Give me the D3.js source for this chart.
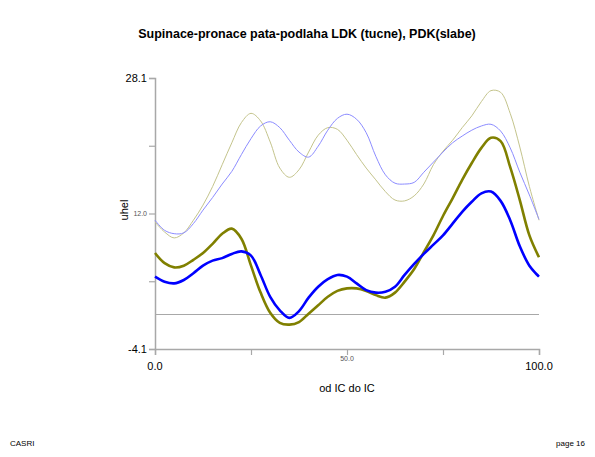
<!DOCTYPE html>
<html>
<head>
<meta charset="utf-8">
<script src="https://cdn.jsdelivr.net/npm/d3@7"></script>
<style>
  body { margin: 0; background: #fff; }
  text { font-family: Arial, "Liberation Sans", sans-serif; }
</style>
</head>
<body>
<svg width="595" height="457"></svg>
<script>
// procenta cyklu (od IC do IC)
const pct = [0, 2.5, 5, 7.5, 10, 12.5, 15, 17.5, 20, 22.5, 25, 27.5, 30, 32.5, 35, 37.5, 40,
  42.5, 45, 47.5, 50, 52.5, 55, 57.5, 60, 62.5, 65, 67.5, 70, 72.5, 75, 77.5, 80, 82.5, 85,
  87.5, 90, 92.5, 95, 97.5, 100];

// LDK - tucne
const ldkOlive = [7.3, 6.1, 5.6, 5.8, 6.5, 7.3, 8.4, 9.6, 10.2, 9.0, 5.8, 2.6, 0.2, -1.0, -1.2, -0.9, 0.1,
  1.1, 2.1, 2.8, 3.1, 3.1, 2.8, 2.3, 2.0, 2.6, 3.9, 5.4, 7.4, 9.4, 11.7, 13.8, 16.0, 18.0, 19.8,
  21.0, 20.6, 17.5, 13.6, 9.4, 6.8];
const ldkBlue = [4.5, 3.9, 3.7, 4.1, 4.9, 5.8, 6.4, 6.7, 7.2, 7.5, 7.0, 4.7, 2.1, 0.5, -0.4, 0.4, 2.0,
  3.3, 4.2, 4.7, 4.5, 3.7, 2.9, 2.6, 2.7, 3.3, 4.7, 6.0, 7.2, 8.3, 9.4, 10.8, 12.2, 13.4, 14.4,
  14.6, 13.5, 11.2, 8.1, 5.8, 4.5];

// PDK - slabe
const pdkOlive = [11.0, 9.8, 9.1, 9.7, 11.2, 13.0, 15.2, 17.8, 20.4, 22.8, 23.9, 23.0, 20.5, 17.4, 16.3, 17.2, 19.3,
  21.3, 22.2, 22.0, 20.7, 19.0, 17.4, 16.0, 14.6, 13.6, 13.5, 14.1, 15.5, 17.8, 19.4, 20.7, 22.2, 23.6, 25.3,
  26.6, 26.4, 23.9, 19.9, 15.2, 11.2];
const pdkBlue = [11.2, 10.0, 9.6, 9.7, 10.8, 12.4, 13.9, 15.5, 17.0, 19.0, 20.9, 22.4, 22.9, 22.2, 20.7, 19.3, 18.7,
  20.0, 21.9, 23.3, 23.8, 23.2, 21.6, 18.8, 16.6, 15.6, 15.5, 15.7, 16.9, 18.1, 19.3, 20.4, 21.2, 21.9, 22.4,
  22.6, 21.8, 19.8, 16.9, 14.2, 11.3];

const yTicks = [-4.1, 3.95, 12.0, 20.05, 28.1];
const yLabels = {"-4.1": "-4.1", "12": "12.0", "28.1": "28.1"};
const xTicks = [0, 25, 50, 75, 100];
const xLabels = {"0": "0.0", "50": "50.0", "100": "100.0"};

const svg = d3.select('svg');
const axisColor = "#a8a8a8";

const x = d3.scaleLinear().domain([0, 100]).range([155, 539]);
const y = d3.scaleLinear().domain([-4.1, 28.1]).range([349, 78]);

//titulek
svg.append("text")
    .attr("x", 307).attr("y", 38)
    .attr("text-anchor", "middle")
    .attr("font-size", 12.5).attr("font-weight", "bold")
    .text("Supinace-pronace pata-podlaha LDK (tucne), PDK(slabe)");

//nulova cara
svg.append("line")
    .attr("x1", x(0)).attr("x2", x(100))
    .attr("y1", y(0)).attr("y2", y(0))
    .attr("stroke", axisColor).attr("stroke-width", 1.2);

//osa y
const yAxis = svg.append("g").attr("transform", `translate(${x(0)},0)`)
    .call(d3.axisLeft(y).tickValues(yTicks).tickSize(6).tickFormat(""));
yAxis.select(".domain").attr("stroke", axisColor).attr("stroke-width", 1.5);
yAxis.selectAll(".tick line").attr("stroke", axisColor).attr("stroke-width", 1.2);

svg.append("g").selectAll("text")
    .data(yTicks.filter(d => yLabels[String(d)]))
    .join("text")
    .attr("x", 147)
    .attr("y", d => y(d))
    .attr("dy", "0.35em")
    .attr("text-anchor", "end")
    .attr("font-size", d => d === 12 ? 7 : 11)
    .attr("fill", d => d === 12 ? "#555" : "#000")
    .text(d => yLabels[String(d)]);

//osa x
const xAxis = svg.append("g").attr("transform", `translate(0,${y(-4.1)})`)
    .call(d3.axisBottom(x).tickValues(xTicks).tickSize(6).tickFormat(""));
xAxis.select(".domain").attr("stroke", axisColor).attr("stroke-width", 1.5);
xAxis.selectAll(".tick line").attr("stroke", axisColor).attr("stroke-width", 1.2);

svg.append("g").selectAll("text")
    .data(xTicks.filter(d => xLabels[String(d)]))
    .join("text")
    .attr("x", d => x(d))
    .attr("y", d => d === 50 ? 361 : 370)
    .attr("text-anchor", "middle")
    .attr("font-size", d => d === 50 ? 7 : 11)
    .attr("fill", d => d === 50 ? "#555" : "#000")
    .text(d => xLabels[String(d)]);

//popisky os
svg.append("text")
    .attr("transform", "translate(128,210) rotate(-90)")
    .attr("text-anchor", "middle")
    .attr("font-size", 11)
    .text("uhel");

svg.append("text")
    .attr("x", 347).attr("y", 392)
    .attr("text-anchor", "middle")
    .attr("font-size", 11)
    .text("od IC do IC");

//krivky
const line = d3.line()
    .x((d, i) => x(pct[i]))
    .y(d => y(d))
    .curve(d3.curveCatmullRom.alpha(0.5));

const series = [
  {values: pdkOlive, color: "#c4c48c", width: 1},
  {values: pdkBlue, color: "#8c8cff", width: 1},
  {values: ldkOlive, color: "#808000", width: 2.6},
  {values: ldkBlue, color: "#0000ff", width: 2.6}
];

svg.append("g").selectAll("path")
    .data(series)
    .join("path")
    .attr("d", d => line(d.values))
    .attr("fill", "none")
    .attr("stroke", d => d.color)
    .attr("stroke-width", d => d.width)
    .attr("stroke-linejoin", "round");

//paticka
svg.append("text")
    .attr("x", 10).attr("y", 446)
    .attr("font-size", 8)
    .text("CASRI");

svg.append("text")
    .attr("x", 585).attr("y", 446)
    .attr("text-anchor", "end")
    .attr("font-size", 8)
    .text("page 16");
</script>
</body>
</html>
